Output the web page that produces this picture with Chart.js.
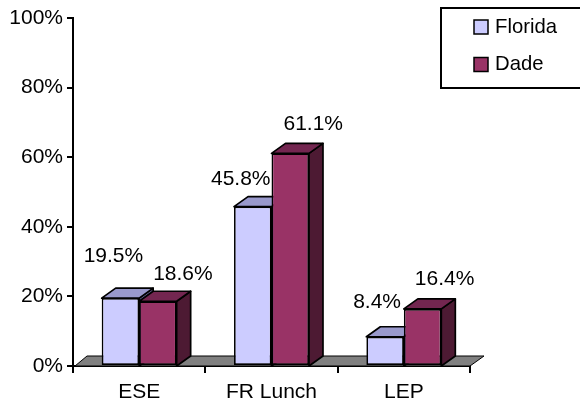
<!DOCTYPE html>
<html>
<head>
<meta charset="utf-8">
<style>
html, body { margin: 0; padding: 0; background: #fff; }
#wrap { width: 580px; height: 402px; }
</style>
<script src="https://cdn.jsdelivr.net/npm/chart.js@4"></script>
</head>
<body>
<div id="wrap"><canvas id="chart" width="580" height="402"></canvas></div>
<script>
const categories = ["ESE", "FR Lunch", "LEP"];
const florida = [19.5, 45.8, 8.4];
const dade = [18.6, 61.1, 16.4];
const yTicks = [0, 20, 40, 60, 80, 100];

const fontName = "'Liberation Sans', Arial, sans-serif";
const fontSize = 21;
const depthX = 14; // fake 3D depth of bars
const depthY = 10;

// hand placed label shifts from the bar centre, same order as the datasets
const labelShift = [
    [[-7, -42], [-12, -27], [-8, -35]],
    [[25, -27], [23, -29], [22, -30]]
];

const seriesColors = [
    { front: "#CCCCFF", top: "#9999CC", side: "#666699" },
    { front: "#993366", top: "#732650", side: "#4D1A33" }
];

function poly(ctx, pts, fill) {
    ctx.beginPath();
    ctx.moveTo(pts[0][0], pts[0][1]);
    for (let i = 1; i < pts.length; i++) ctx.lineTo(pts[i][0], pts[i][1]);
    ctx.closePath();
    ctx.fillStyle = fill;
    ctx.fill();
    ctx.lineWidth = 1.7;
    ctx.strokeStyle = "#000";
    ctx.stroke();
}

// floor and the top/side faces go under the normal bars
const faces3d = {
    id: "faces3d",
    beforeDatasetsDraw(chart) {
        const ctx = chart.ctx;
        const area = chart.chartArea;
        const y0 = chart.scales.y.getPixelForValue(0);
        ctx.save();
        ctx.lineJoin = "round";
        ctx.beginPath();
        ctx.moveTo(area.left + 2, y0);
        ctx.lineTo(area.left + depthX, y0 - depthY);
        ctx.lineTo(area.right + depthX, y0 - depthY);
        ctx.lineTo(area.right, y0);
        ctx.closePath();
        ctx.fillStyle = "#808080";
        ctx.fill();
        ctx.lineWidth = 1;
        ctx.strokeStyle = "#000";
        ctx.stroke();
        chart.data.datasets.forEach(function (ds, d) {
            chart.getDatasetMeta(d).data.forEach(function (bar) {
                const l = bar.x - bar.width / 2;
                const r = bar.x + bar.width / 2;
                poly(ctx, [[r, bar.y], [r + depthX, bar.y - depthY], [r + depthX, y0 - depthY], [r, y0]], seriesColors[d].side);
                poly(ctx, [[l, bar.y], [l + depthX, bar.y - depthY], [r + depthX, bar.y - depthY], [r, bar.y]], seriesColors[d].top);
            });
        });
        ctx.restore();
    },
    afterDatasetsDraw(chart) {
        const ctx = chart.ctx;
        ctx.save();
        ctx.font = fontSize + "px " + fontName;
        ctx.fillStyle = "#000";
        ctx.textAlign = "center";
        ctx.textBaseline = "middle";
        chart.data.datasets.forEach(function (ds, d) {
            chart.getDatasetMeta(d).data.forEach(function (bar, i) {
                const s = labelShift[d][i];
                ctx.fillText(ds.data[i].toFixed(1) + "%", bar.x + s[0], bar.y + s[1]);
            });
        });

        // legend box, runs off the right edge like the original
        ctx.lineWidth = 2;
        ctx.strokeStyle = "#000";
        ctx.strokeRect(441, 8, 145, 80);
        ctx.textAlign = "left";
        ctx.font = "20.3px " + fontName;
        chart.data.datasets.forEach(function (ds, d) {
            const y = 27 + d * 37.5;
            ctx.lineWidth = 1.5;
            ctx.fillStyle = seriesColors[d].front;
            ctx.fillRect(474, y - 7, 14, 14);
            ctx.strokeRect(474, y - 7, 14, 14);
            ctx.fillStyle = "#000";
            ctx.fillText(ds.label, 495, y);
        });
        ctx.restore();
    }
};

new Chart(document.getElementById("chart"), {
    type: "bar",
    data: {
        labels: categories,
        datasets: [
            { label: "Florida", data: florida, backgroundColor: seriesColors[0].front, borderColor: "#000", borderWidth: 1.7, borderSkipped: false },
            { label: "Dade", data: dade, backgroundColor: seriesColors[1].front, borderColor: "#000", borderWidth: 1.7, borderSkipped: false }
        ]
    },
    options: {
        responsive: false,
        animation: false,
        layout: { padding: { left: 0, top: 18, right: 110, bottom: 0 } },
        categoryPercentage: 0.5665,
        barPercentage: 1,
        plugins: { legend: { display: false }, tooltip: { enabled: false } },
        scales: {
            x: {
                grid: { drawOnChartArea: false, color: "#000", lineWidth: 2, tickLength: 7, offset: true },
                border: { color: "#000", width: 2 },
                ticks: { color: "#000", font: { family: fontName, size: fontSize }, padding: 7, maxRotation: 0 },
                afterFit(scale) { scale.height = 36; }
            },
            y: {
                min: 0,
                max: 100,
                afterBuildTicks(scale) { scale.ticks = yTicks.map(v => ({ value: v })); },
                grid: { drawOnChartArea: false, color: "#000", lineWidth: 2, tickLength: 6 },
                border: { color: "#000", width: 2 },
                ticks: { color: "#000", font: { family: fontName, size: fontSize }, padding: 4, callback: v => v + "%" },
                afterFit(scale) { scale.width = 73; }
            }
        }
    },
    plugins: [faces3d]
});
</script>
</body>
</html>
